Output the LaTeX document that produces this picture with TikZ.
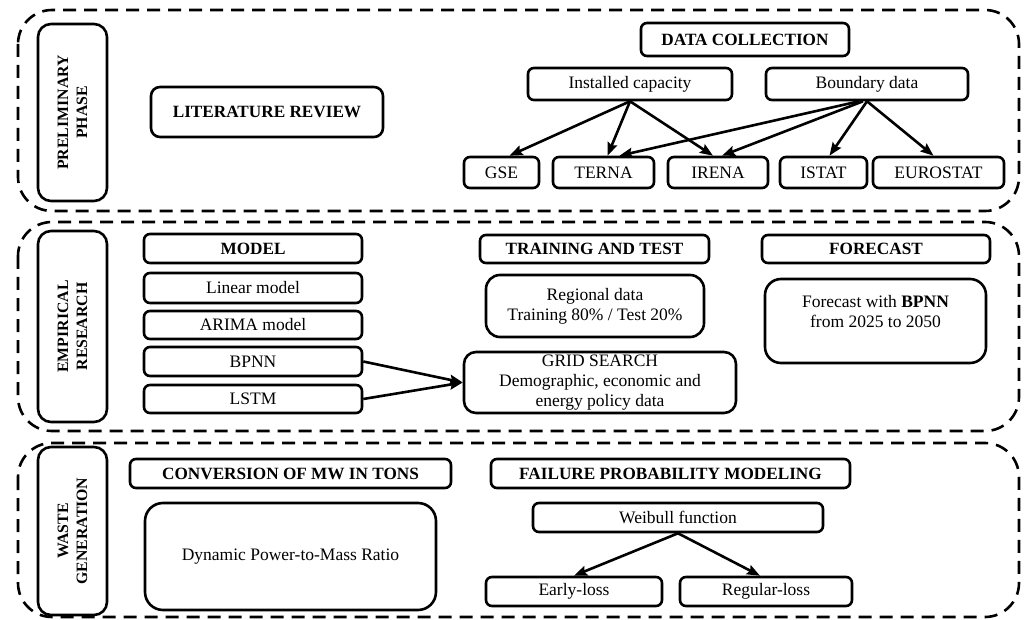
\documentclass[tikz,border=0pt]{standalone}
\usepackage{fontspec}
\setmainfont{Liberation Serif}
\usetikzlibrary{arrows.meta}
\begin{document}
\begin{tikzpicture}[x=1pt,y=-1pt,
  bx/.style={draw, line width=2.6pt, rounded corners=6pt, inner sep=0pt, align=center, font=\fontsize{17.5}{20}\selectfont},
  bb/.style={bx, font=\fontsize{17.2}{20}\selectfont\bfseries},
  big/.style={bx, rounded corners=14pt},
  phase/.style={draw, line width=2.6pt, rounded corners=13pt, inner sep=0pt, align=center, rotate=90, minimum height=69pt, font=\fontsize{15.8}{19}\selectfont\bfseries},
  outer/.style={draw, line width=2.6pt, dash pattern=on 13pt off 8pt, rounded corners=34pt},
  arr/.style={line width=2.6pt, -{Stealth[length=13pt,width=10pt,inset=2pt]}},
  txt/.style={inner sep=0pt, align=center, font=\fontsize{17.5}{20}\selectfont}
]
\useasboundingbox (0,0) rectangle (1025,620);

% outer dashed frames
\draw[outer] (18,10) rectangle (1019,211);
\draw[outer] (18,222) rectangle (1019,431);
\draw[outer] (18,443) rectangle (1019,617);

% phase labels
\node[phase, minimum width=177pt] (ph1) at (72.5,112.5) {PRELIMINARY\\PHASE};
\node[phase, minimum width=191pt] (ph2) at (72.5,326.5) {EMPIRICAL\\RESEARCH};
\node[phase, minimum width=168pt] (ph3) at (72.5,531) {WASTE\\GENERATION};

% preliminary phase
\node[bb, rounded corners=9pt, minimum width=232pt, minimum height=50pt] (litrev) at (267,112) {LITERATURE REVIEW};
\node[bb, minimum width=208pt, minimum height=33pt] (datacol) at (745,39.5) {DATA COLLECTION};
\node[bx, minimum width=204pt, minimum height=32pt] (inst) at (630,84) {Installed capacity};
\node[bx, minimum width=202pt, minimum height=32pt] (bound) at (867,84) {Boundary data};
\node[bx, minimum width=75pt, minimum height=31pt] (gse) at (501.5,172.5) {GSE};
\node[bx, minimum width=101pt, minimum height=31pt] (terna) at (603.5,172.5) {TERNA};
\node[bx, minimum width=100pt, minimum height=31pt] (irena) at (718,172.5) {IRENA};
\node[bx, minimum width=87pt, minimum height=31pt] (istat) at (823.5,172.5) {ISTAT};
\node[bx, minimum width=131pt, minimum height=31pt] (euro) at (938.5,172.5) {EUROSTAT};

\draw[arr] (inst.south) -- ([xshift=8pt]gse.north);
\draw[arr] (inst.south) -- ([xshift=4pt]terna.north);
\draw[arr] (inst.south) -- ([xshift=-5pt]irena.north);
\draw[arr] ([xshift=-8pt]bound.south) -- ([xshift=16pt]terna.north);
\draw[arr] ([xshift=-4pt]bound.south) -- ([xshift=4pt]irena.north);
\draw[arr] (bound.south) -- ([xshift=6pt]istat.north);
\draw[arr] (bound.south) -- ([xshift=-5pt]euro.north);

% empirical research
\node[bb, minimum width=218pt, minimum height=29pt] (model) at (253,248.5) {MODEL};
\node[bx, minimum width=218pt, minimum height=30pt] (linear) at (253,288) {Linear model};
\node[bx, minimum width=218pt, minimum height=28pt] (arima) at (253,325) {ARIMA model};
\node[bx, minimum width=218pt, minimum height=29pt] (bpnn) at (253,361.5) {BPNN};
\node[bx, minimum width=218pt, minimum height=28pt] (lstm) at (253,399) {LSTM};
\node[bb, minimum width=229pt, minimum height=28pt] (train) at (594.5,249) {TRAINING AND TEST};
\node[big, minimum width=218pt, minimum height=62pt] (regional) at (595,306) {Regional data\\Training 80\% / Test 20\%};
\node[big, rounded corners=12pt, minimum width=272pt, minimum height=61pt] (grid) at (600,382.5) {GRID SEARCH\\Demographic, economic and\\energy policy data};
\node[bb, minimum width=228pt, minimum height=28pt] (fcast) at (876,249) {FORECAST};
\node[big, rounded corners=16pt, minimum width=221pt, minimum height=84pt] (fbox) at (875.5,321) {};
\node[txt] (ftext) at (875.5,312) {Forecast with \textbf{BPNN}\\from 2025 to 2050};

\draw[arr] (bpnn.east) -- (grid.west);
\draw[arr] (lstm.east) -- (grid.west);

% waste generation
\node[bb, minimum width=321pt, minimum height=29pt] (conv) at (290.5,473.5) {CONVERSION OF MW IN TONS};
\node[big, rounded corners=18pt, minimum width=291pt, minimum height=107pt] (dyn) at (290.5,556.5) {Dynamic Power-to-Mass Ratio};
\node[bb, minimum width=359pt, minimum height=29pt] (fail) at (670.5,473.5) {FAILURE PROBABILITY MODELING};
\node[bx, minimum width=290pt, minimum height=29pt] (weib) at (678,517.5) {Weibull function};
\node[bx, minimum width=176pt, minimum height=29pt] (early) at (574,591.5) {Early-loss};
\node[bx, minimum width=172pt, minimum height=29pt] (regular) at (766,591.5) {Regular-loss};

\draw[arr] (weib.south) -- (early.north);
\draw[arr] (weib.south) -- ([xshift=-6pt]regular.north);
\end{tikzpicture}
\end{document}
